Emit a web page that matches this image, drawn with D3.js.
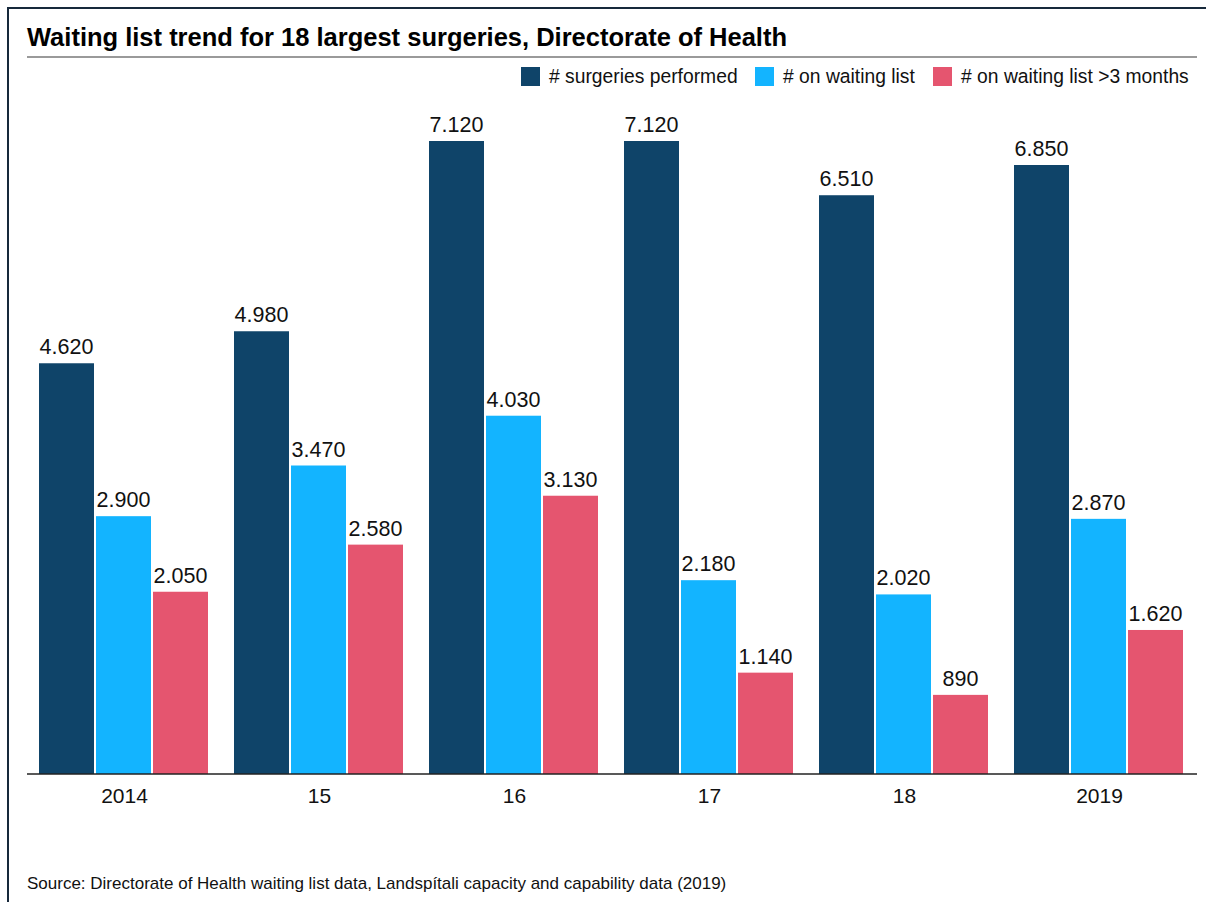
<!DOCTYPE html>
<html>
<head>
<meta charset="utf-8">
<script src="https://cdn.jsdelivr.net/npm/d3@7"></script>
<style>
  html, body { margin: 0; padding: 0; background: #fff; }
  svg { display: block; font-family: "Liberation Sans", Arial, sans-serif; }
</style>
</head>
<body>
<svg id="chart" width="1206" height="902"></svg>
<script>
// Chart data
const years = ["2014", "15", "16", "17", "18", "2019"];
const seriesNames = ["# surgeries performed", "# on waiting list", "# on waiting list >3 months"];
const surgeriesPerformed = [4620, 4980, 7120, 7120, 6510, 6850];
const onWaitingList = [2900, 3470, 4030, 2180, 2020, 2870];
const waitingOver3Months = [2050, 2580, 3130, 1140, 890, 1620];
const seriesColors = ["#0f4469", "#13b4ff", "#e5556f"];

const seriesValues = [surgeriesPerformed, onWaitingList, waitingOver3Months];

const svg = d3.select("#chart");
const W = 1206, H = 902;

// Frame lines (top and left)
svg.append("line").attr("x1", 7).attr("x2", W).attr("y1", 8).attr("y2", 8)
  .attr("stroke", "#17293b").attr("stroke-width", 2);
svg.append("line").attr("x1", 8).attr("x2", 8).attr("y1", 7).attr("y2", H)
  .attr("stroke", "#17293b").attr("stroke-width", 2);

// Title and rule beneath it
svg.append("text").attr("x", 27).attr("y", 46)
  .attr("font-size", 25.5).attr("font-weight", "bold").attr("fill", "#000")
  .text("Waiting list trend for 18 largest surgeries, Directorate of Health");
svg.append("line").attr("x1", 27).attr("x2", 1197).attr("y1", 57).attr("y2", 57)
  .attr("stroke", "#9a9a9a").attr("stroke-width", 2);

// Legend
const legendX = [521, 755, 933];
const legend = svg.append("g");
seriesNames.forEach((name, i) => {
  legend.append("rect").attr("x", legendX[i]).attr("y", 67).attr("width", 19).attr("height", 19)
    .attr("fill", seriesColors[i]);
  legend.append("text").attr("x", legendX[i] + 28).attr("y", 83)
    .attr("font-size", 19.3).attr("fill", "#111").text(name);
});

// Scales
const plotLeft = 27, plotRight = 1197, baseY = 774, topY = 141;
const x0 = d3.scaleBand().domain(years).range([plotLeft, plotRight]).paddingInner(0).paddingOuter(0);
const x1 = d3.scaleBand().domain(d3.range(3)).range([12, x0.bandwidth() - 12]);
const y = d3.scaleLinear().domain([0, 7120]).range([baseY, topY]);

const fmt = v => d3.format(",")(v).replace(/,/g, ".");

// Bars and value labels
const groups = svg.append("g").selectAll("g").data(years).join("g")
  .attr("transform", d => `translate(${x0(d)},0)`);

groups.selectAll("rect")
  .data((d, gi) => seriesValues.map((vals, si) => ({ si, v: vals[gi] })))
  .join("rect")
  .attr("x", d => x1(d.si))
  .attr("y", d => y(d.v))
  .attr("width", x1.bandwidth() - 2)
  .attr("height", d => baseY - y(d.v))
  .attr("fill", d => seriesColors[d.si]);

groups.selectAll("text")
  .data((d, gi) => seriesValues.map((vals, si) => ({ si, v: vals[gi] })))
  .join("text")
  .attr("x", d => x1(d.si) + (x1.bandwidth() - 2) / 2)
  .attr("y", d => y(d.v) - 9)
  .attr("text-anchor", "middle")
  .attr("font-size", 21.5).attr("fill", "#111")
  .text(d => fmt(d.v));

// X axis
const xAxis = svg.append("g").attr("transform", `translate(0,${baseY})`)
  .call(d3.axisBottom(x0).tickSize(0).tickPadding(14));
xAxis.select(".domain").attr("stroke", "#222").attr("stroke-width", 1.5)
  .attr("d", `M${plotLeft},0H${plotRight}`);
xAxis.selectAll("text").attr("font-size", 21).attr("fill", "#111")
  .attr("font-family", "Liberation Sans, Arial, sans-serif");

// Source note
svg.append("text").attr("x", 27).attr("y", 889)
  .attr("font-size", 17).attr("fill", "#111")
  .text("Source: Directorate of Health waiting list data, Landspítali capacity and capability data (2019)");
</script>
</body>
</html>
